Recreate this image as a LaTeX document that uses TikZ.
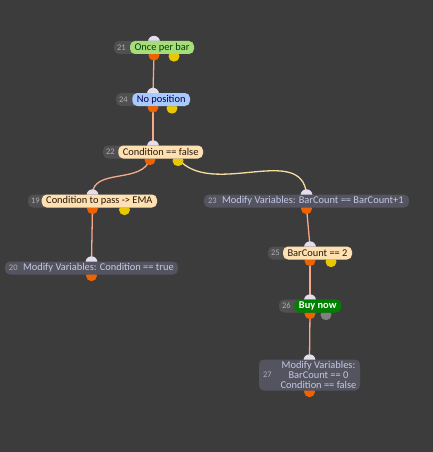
\documentclass[tikz,border=0pt]{standalone}
\usepackage{fontspec}
\setmainfont{Carlito}
\usetikzlibrary{positioning,backgrounds}
\definecolor{bgdark}{RGB}{60,60,60}
\definecolor{blkgray}{RGB}{80,80,83}
\definecolor{modgray}{RGB}{84,84,96}
\definecolor{numgray}{RGB}{175,175,178}
\definecolor{modtext}{RGB}{196,200,228}
\definecolor{tggreen}{RGB}{166,220,122}
\definecolor{tgblue}{RGB}{168,202,255}
\definecolor{tgcream}{RGB}{255,224,176}
\definecolor{tgbuy}{RGB}{0,128,0}
\definecolor{portin}{RGB}{228,222,236}
\definecolor{portout}{RGB}{238,98,0}
\definecolor{portalt}{RGB}{232,200,0}
\definecolor{portgray}{RGB}{128,128,128}
\definecolor{wirecol}{RGB}{246,170,140}
\definecolor{ywirecol}{RGB}{246,222,160}

\tikzset{
  block/.style={fill=blkgray, rounded corners=5pt, minimum height=13pt, inner sep=0pt},
  modblock/.style={block, fill=modgray},
  tag/.style={rounded corners=5pt, minimum height=13pt, inner xsep=4.5pt, inner ysep=0pt,
    font=\fontsize{10.4}{11}\selectfont},
  num/.style={text=numgray, inner sep=0pt, font=\fontsize{8.5}{9}\selectfont},
  modtag/.style={text=modtext, inner sep=0pt, align=center, font=\fontsize{10.4}{11}\selectfont},
  wire/.style={line width=1.3pt, wirecol},
  ywire/.style={line width=1.3pt, ywirecol},
}

\begin{document}
\begin{tikzpicture}[x=1pt,y=-1pt]
  \useasboundingbox (0,0) rectangle (433,452);

  % blocks
  \node[block, minimum width=80pt] (b21) at (154,47.5) {};
  \node[num, right=3pt of b21.west] (k21) {21};
  \node[tag, fill=tggreen, text=black!75!green, anchor=east] (l21) at (b21.east) {Once per bar};

  \node[block, minimum width=74pt] (b24) at (153,99.5) {};
  \node[num, right=3pt of b24.west] (k24) {24};
  \node[tag, fill=tgblue, text=black!70!blue, anchor=east] (l24) at (b24.east) {No position};

  \node[block, minimum width=100pt] (b22) at (153,152) {};
  \node[num, right=3pt of b22.west] (k22) {22};
  \node[tag, fill=tgcream, text=black!80!brown, anchor=east] (l22) at (b22.east) {Condition == false};

  \node[block, minimum width=129pt] (b19) at (92.5,201) {};
  \node[num, right=3pt of b19.west] (k19) {19};
  \node[tag, fill=tgcream, text=black!80!brown, anchor=east] (l19) at (b19.east) {Condition to pass -> EMA};

  \node[modblock, minimum width=173pt] (b20) at (91.5,268) {};
  \node[num, right=4pt of b20.west] (k20) {20};
  \node[modtag, right=5pt of k20] (l20) {Modify Variables: Condition == true};

  \node[modblock, minimum width=205pt] (b23) at (306.5,201) {};
  \node[num, right=4pt of b23.west] (k23) {23};
  \node[modtag, right=5pt of k23] (l23) {Modify Variables: BarCount == BarCount+1};

  \node[block, minimum width=84pt] (b25) at (310,253) {};
  \node[num, right=3pt of b25.west] (k25) {25};
  \node[tag, fill=tgcream, text=black!80!brown, anchor=east] (l25) at (b25.east) {BarCount == 2};

  \node[block, minimum width=62pt] (b26) at (310,306) {};
  \node[num, right=3pt of b26.west] (k26) {26};
  \node[tag, fill=tgbuy, text=white, anchor=east, font=\bfseries\fontsize{10.4}{11}\selectfont] (l26) at (b26.east) {Buy now};

  \node[modblock, minimum width=101pt, minimum height=31pt] (b27) at (309.5,375) {};
  \node[num, right=4pt of b27.west] (k27) {27};
  \node[modtag, font=\fontsize{10.4}{9.6}\selectfont] (l27) at (318.5,375) {Modify Variables:\\BarCount == 0\\Condition == false};

  \begin{scope}[on background layer]
    \fill[bgdark] (0,0) rectangle (433,452);
    % connectors
    \draw[wire] (b21.south) -- (b24.north);
    \draw[wire] (b24.south) -- (b22.north);
    \draw[wire] ([xshift=-3pt]b22.south) to[out=-105,in=90] (b19.north);
    \draw[ywire] ([xshift=25pt]b22.south) to[out=-50,in=95] (b23.north);
    \draw[wire] (b19.south) -- (b20.north);
    \draw[wire] (b23.south) -- (b25.north);
    \draw[wire] (b25.south) -- (b26.north);
    \draw[wire] (b26.south) -- (b27.north);
    % ports
    \foreach \n in {21,24,22,19,20,23,25,26,27}
      \fill[portin] ([yshift=-1pt]b\n.north) circle (6pt);
    \foreach \n in {21,24,19,20,23,25,26,27}
      \fill[portout] ([yshift=-1pt]b\n.south) circle (5.5pt);
    \fill[portout] ([xshift=-3pt,yshift=-1pt]b22.south) circle (5.5pt);
    \fill[portalt] ([xshift=20pt,yshift=-2pt]b21.south) circle (5.5pt);
    \fill[portalt] ([xshift=19pt,yshift=-2pt]b24.south) circle (5.5pt);
    \fill[portalt] ([xshift=25pt,yshift=-2pt]b22.south) circle (5.5pt);
    \fill[portalt] ([xshift=32pt,yshift=-2pt]b19.south) circle (5.5pt);
    \fill[portalt] ([xshift=21pt,yshift=-2pt]b25.south) circle (5.5pt);
    \fill[portgray] ([xshift=16pt,yshift=-2pt]b26.south) circle (5.5pt);
  \end{scope}
\end{tikzpicture}
\end{document}
